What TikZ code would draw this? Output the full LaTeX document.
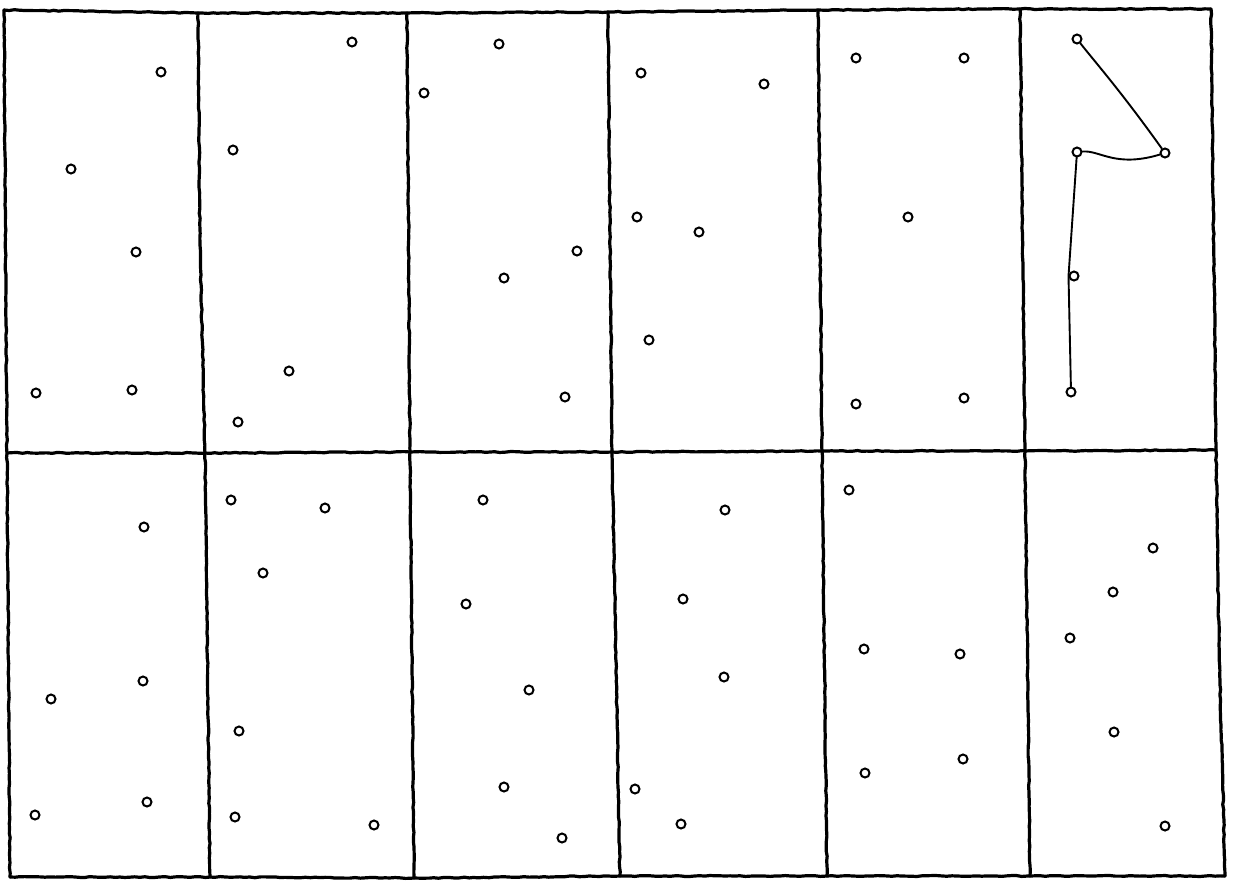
\documentclass[tikz,border=0pt]{standalone}
\usetikzlibrary{decorations.pathmorphing}
\tikzset{
  grid/.style={line width=3.2pt, line join=round, line cap=round, black,
    decorate, decoration={random steps, segment length=5pt, amplitude=0.5pt}},
  dot/.style={circle, draw, line width=2pt, inner sep=0pt, minimum size=9pt, fill=white},
  link/.style={line width=1.9pt, line cap=round, line join=round}
}
\begin{document}
\begin{tikzpicture}[x=1pt,y=-1pt]
\fill[white] (0,0) rectangle (1233,884);
\useasboundingbox (0,0) rectangle (1233,884);
% grid corner coordinates
\coordinate (g00) at (4,10);   \coordinate (g01) at (7,453);    \coordinate (g02) at (10,877);
\coordinate (g10) at (198,13); \coordinate (g11) at (205,453);  \coordinate (g12) at (210,877);
\coordinate (g20) at (407,13); \coordinate (g21) at (410,452);  \coordinate (g22) at (414,878);
\coordinate (g30) at (608,12); \coordinate (g31) at (612,452);  \coordinate (g32) at (620,876);
\coordinate (g40) at (818,10); \coordinate (g41) at (822,451);  \coordinate (g42) at (827,876);
\coordinate (g50) at (1020,9); \coordinate (g51) at (1025,451); \coordinate (g52) at (1030,876);
\coordinate (g60) at (1211,9); \coordinate (g61) at (1216,450); \coordinate (g62) at (1225,876);
% horizontal lines
\draw[grid] (g00) -- (g10) -- (g20) -- (g30) -- (g40) -- (g50) -- (g60);
\draw[grid] (g01) -- (g11) -- (g21) -- (g31) -- (g41) -- (g51) -- (g61);
\draw[grid] (g02) -- (g12) -- (g22) -- (g32) -- (g42) -- (g52) -- (g62);
% vertical lines
\draw[grid] (g00) -- (g01) -- (g02);
\draw[grid] (g10) -- (200,245) -- (g11) -- (g12);
\draw[grid] (g20) -- (g21) -- (g22);
\draw[grid] (g30) -- (g31) -- (g32);
\draw[grid] (g40) -- (g41) -- (g42);
\draw[grid] (g50) -- (g51) -- (g52);
\draw[grid] (g60) -- (g61) -- (1219,645) -- (g62);
% top row
\node[dot] (t1a) at (161,72) {};
\node[dot] (t1b) at (71,169) {};
\node[dot] (t1c) at (136,252) {};
\node[dot] (t1d) at (36,393) {};
\node[dot] (t1e) at (132,390) {};
\node[dot] (t2a) at (352,42) {};
\node[dot] (t2b) at (233,150) {};
\node[dot] (t2c) at (289,371) {};
\node[dot] (t2d) at (238,422) {};
\node[dot] (t3a) at (499,44) {};
\node[dot] (t3b) at (424,93) {};
\node[dot] (t3c) at (577,251) {};
\node[dot] (t3d) at (504,278) {};
\node[dot] (t3e) at (565,397) {};
\node[dot] (t4a) at (641,73) {};
\node[dot] (t4b) at (764,84) {};
\node[dot] (t4c) at (637,217) {};
\node[dot] (t4d) at (699,232) {};
\node[dot] (t4e) at (649,340) {};
\node[dot] (t5a) at (856,58) {};
\node[dot] (t5b) at (964,58) {};
\node[dot] (t5c) at (908,217) {};
\node[dot] (t5d) at (856,404) {};
\node[dot] (t5e) at (964,398) {};
\node[dot] (t6a) at (1077,39) {};
\node[dot] (t6b) at (1077,152) {};
\node[dot] (t6c) at (1165,153) {};
\node[dot] (t6d) at (1074,276) {};
\node[dot] (t6e) at (1071,392) {};
% bottom row
\node[dot] (b1a) at (144,527) {};
\node[dot] (b1b) at (143,681) {};
\node[dot] (b1c) at (51,699) {};
\node[dot] (b1d) at (147,802) {};
\node[dot] (b1e) at (35,815) {};
\node[dot] (b2a) at (231,500) {};
\node[dot] (b2b) at (325,508) {};
\node[dot] (b2c) at (263,573) {};
\node[dot] (b2d) at (239,731) {};
\node[dot] (b2e) at (235,817) {};
\node[dot] (b2f) at (374,825) {};
\node[dot] (b3a) at (483,500) {};
\node[dot] (b3b) at (466,604) {};
\node[dot] (b3c) at (529,690) {};
\node[dot] (b3d) at (504,787) {};
\node[dot] (b3e) at (562,838) {};
\node[dot] (b4a) at (725,510) {};
\node[dot] (b4b) at (683,599) {};
\node[dot] (b4c) at (724,677) {};
\node[dot] (b4d) at (635,789) {};
\node[dot] (b4e) at (681,824) {};
\node[dot] (b5a) at (849,490) {};
\node[dot] (b5b) at (864,649) {};
\node[dot] (b5c) at (960,654) {};
\node[dot] (b5d) at (865,773) {};
\node[dot] (b5e) at (963,759) {};
\node[dot] (b6a) at (1153,548) {};
\node[dot] (b6b) at (1113,592) {};
\node[dot] (b6c) at (1070,638) {};
\node[dot] (b6d) at (1114,732) {};
\node[dot] (b6e) at (1165,826) {};
% connectors in the top-right cell
\draw[link] (t6a) .. controls (1095,62) and (1120,90) .. (t6c);
\draw[link] (t6b) .. controls (1100,150) and (1115,168) .. (t6c);
\draw[link] (t6b) -- (t6d.west) -- (t6e);
\end{tikzpicture}
\end{document}
